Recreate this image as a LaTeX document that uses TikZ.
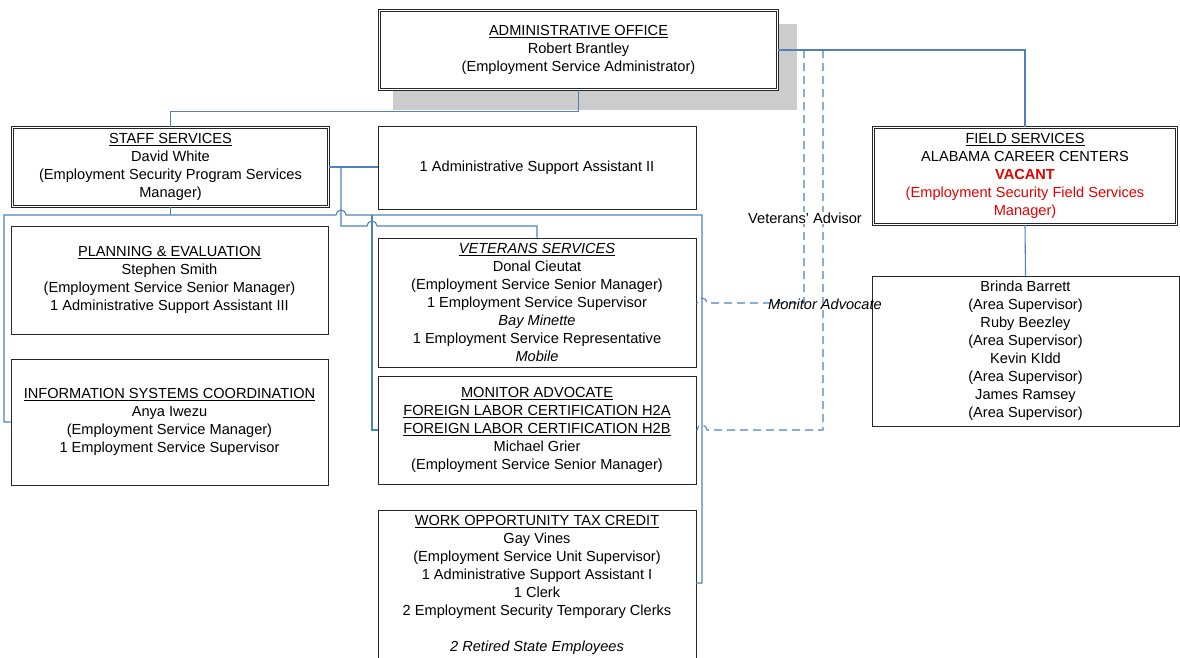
\documentclass[tikz,border=0pt]{standalone}
\usepackage{fontspec}
\setmainfont{Liberation Sans}
\definecolor{linkblue}{HTML}{4F81BD}
\definecolor{vred}{RGB}{228,0,0}
\definecolor{shadowgray}{RGB}{204,204,204}
\newcommand\boxfont{\fontsize{14.6}{18}\selectfont}
\tikzset{
  box/.style={draw=black!85, line width=0.9pt, fill=white, align=center,
    inner sep=0pt, font=\boxfont},
  dbox/.style={box, double, double distance=1.6pt, line width=0.8pt},
  conn/.style={draw=linkblue, line width=1.1pt},
  dconn/.style={conn, dash pattern=on 8pt off 5pt},
  lbl/.style={font=\boxfont, inner sep=1pt},
}
\begin{document}
\begin{tikzpicture}[x=1pt,y=-1pt]
\useasboundingbox (0,0) rectangle (1180,657);
\clip (0,0) rectangle (1180,657);

% drop shadow behind the top box
\fill[shadowgray] (393,24) rectangle (797,110);

% boxes
\node[dbox, minimum width=398, minimum height=79] (admin) at (578.5,50)
  {\underline{ADMINISTRATIVE OFFICE}\\ Robert Brantley\\ (Employment Service Administrator)};
\node[dbox, minimum width=316, minimum height=79] (staff) at (170.5,167)
  {\underline{STAFF SERVICES}\\ David White\\ (Employment Security Program Services\\ Manager)};
\node[box, minimum width=318, minimum height=83] (asa) at (537,167.5)
  {1 Administrative Support Assistant II};
\node[box, minimum width=317, minimum height=108] (pe) at (169.5,280)
  {\underline{PLANNING \& EVALUATION}\\ Stephen Smith\\ (Employment Service Senior Manager)\\ 1 Administrative Support Assistant III};
\node[box, minimum width=317, minimum height=126] (isc) at (169.5,422)
  {\underline{INFORMATION SYSTEMS COORDINATION}\\ Anya Iwezu\\ (Employment Service Manager)\\ 1 Employment Service Supervisor};
\node[box, minimum width=318, minimum height=129] (vs) at (537,302.5)
  {\underline{\textit{VETERANS SERVICES}}\\ Donal Cieutat\\ (Employment Service Senior Manager)\\ 1 Employment Service Supervisor\\ \textit{Bay Minette}\\ 1 Employment Service Representative\\ \textit{Mobile}};
\node[box, minimum width=318, minimum height=108] (ma) at (537,430)
  {\underline{MONITOR ADVOCATE}\\ \underline{FOREIGN LABOR CERTIFICATION H2A}\\ \underline{FOREIGN LABOR CERTIFICATION H2B}\\ Michael Grier\\ (Employment Service Senior Manager)};
\node[box, minimum width=318, minimum height=150] (wotc) at (537,585)
  {\underline{WORK OPPORTUNITY TAX CREDIT}\\ Gay Vines\\ (Employment Service Unit Supervisor)\\ 1 Administrative Support Assistant I\\ 1 Clerk\\ 2 Employment Security Temporary Clerks\\[18pt] \textit{2 Retired State Employees}};
\node[dbox, minimum width=303, minimum height=97] (field) at (1025,176)
  {\underline{FIELD SERVICES}\\ ALABAMA CAREER CENTERS\\ \textcolor{vred}{\textbf{VACANT}}\\ \textcolor{vred}{(Employment Security Field Services}\\ \textcolor{vred}{Manager)}};
\node[box, minimum width=307, minimum height=150] (area) at (1025.5,351)
  {Brinda Barrett\\ (Area Supervisor)\\ Ruby Beezley\\ (Area Supervisor)\\ Kevin KIdd\\ (Area Supervisor)\\ James Ramsey\\ (Area Supervisor)};

% junction points of the connector bus
\coordinate (busL) at (4,215);
\coordinate (busR) at (702,215);
\coordinate (hopA) at (336,215);
\coordinate (jStaff) at (341,167);
\coordinate (jVs) at (341,226);
\coordinate (hopB) at (367,226);
\coordinate (jMa) at (372,215);
\coordinate (wotcIn) at (696,583);
\coordinate (dvA) at (804,50);
\coordinate (dvB) at (823,50);

% solid reporting lines
\draw[conn] (admin.south) -- ++(0,22) -| (staff.north);
\draw[conn] (admin.east) -| (field.north);
\draw[conn] (field.south) -- (area.north);
\draw[conn] (staff.east) -- (staff.east -| asa.west);
\draw[conn] (staff.south) -- (staff.south |- busL);
\draw[conn] (isc.west) -| (busL) -- (hopA)
  arc[start angle=180, end angle=0, radius=5pt] -- (busR) |- (wotcIn);
\draw[conn] (jMa) |- (ma.west);
\draw[conn] (jStaff) -- (jVs) -- (hopB)
  arc[start angle=180, end angle=0, radius=5pt] -- (jVs -| vs.north) -- (vs.north);

% dashed advisory lines
\draw[dconn] (dvA) -- (804,303) -- (707,303)
  arc[start angle=0, end angle=180, radius=5pt] -- (vs.east |- 0,303);
\draw[dconn] (dvB) -- (823,430) -- (707,430)
  arc[start angle=0, end angle=180, radius=5pt] -- (ma.east);

% line labels
\node[lbl, fill=white] (vlab) at (805,218) {Veterans’ Advisor};
\node[lbl] (mlab) at (825,304) {\itshape Monitor Advocate};
\end{tikzpicture}
\end{document}
